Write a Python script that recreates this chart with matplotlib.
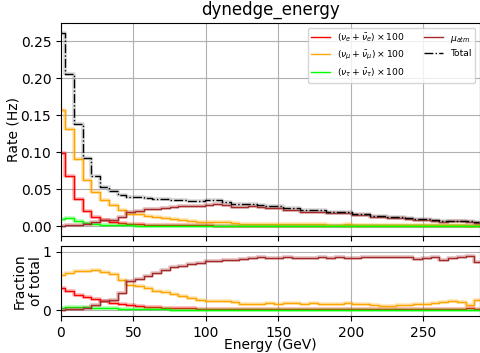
import matplotlib
matplotlib.use("Agg")
import matplotlib.pyplot as plt
import numpy as np

# bin centres (GeV)
energy = np.arange(0, 289, 6)

# total rate (Hz)
total = [0.262, 0.206, 0.138, 0.092, 0.068, 0.0535, 0.047, 0.042, 0.039, 0.039,
         0.038, 0.0365, 0.036, 0.0355, 0.035, 0.0345, 0.0345, 0.0347, 0.0347, 0.033,
         0.0305, 0.0302, 0.030, 0.028, 0.0271, 0.027, 0.0245, 0.0245, 0.0215, 0.0215,
         0.0215, 0.0192, 0.0192, 0.0192, 0.0161, 0.0161, 0.0135, 0.0135, 0.0117, 0.0117,
         0.0105, 0.0094, 0.0094, 0.0076, 0.0072, 0.007, 0.0068, 0.0065, 0.005]

# fraction of total
frac_nue = [0.38, 0.33, 0.265, 0.226, 0.181, 0.153, 0.124, 0.107, 0.079, 0.068,
            0.051, 0.045, 0.04, 0.035, 0.03, 0.028, 0.025, 0.022, 0.02, 0.02,
            0.018, 0.02, 0.02, 0.018, 0.02, 0.022, 0.02, 0.02, 0.022, 0.02,
            0.02, 0.022, 0.02, 0.02, 0.025, 0.02, 0.02, 0.018, 0.02, 0.02,
            0.02, 0.022, 0.02, 0.02, 0.022, 0.02, 0.02, 0.035, 0.025]
frac_numu = [0.6, 0.635, 0.66, 0.675, 0.678, 0.65, 0.61, 0.52, 0.42, 0.407,
             0.37, 0.33, 0.305, 0.27, 0.235, 0.2, 0.17, 0.16, 0.155, 0.15,
             0.13, 0.11, 0.097, 0.1, 0.12, 0.107, 0.115, 0.12, 0.107, 0.12,
             0.107, 0.107, 0.107, 0.12, 0.107, 0.1, 0.09, 0.075, 0.075, 0.08,
             0.085, 0.097, 0.097, 0.12, 0.13, 0.153, 0.13, 0.08, 0.18]
frac_nutau = [0.038, 0.05, 0.05, 0.045, 0.04, 0.035, 0.03, 0.025, 0.02, 0.015,
              0.012, 0.01, 0.01, 0.008, 0.008, 0.007, 0.006, 0.005, 0.005, 0.005,
              0.005, 0.005, 0.004, 0.005, 0.005, 0.004, 0.005, 0.005, 0.004, 0.005,
              0.005, 0.004, 0.005, 0.005, 0.004, 0.005, 0.005, 0.004, 0.005, 0.005,
              0.004, 0.005, 0.005, 0.004, 0.005, 0.005, 0.004, 0.005, 0.005]
frac_muon = [0.0, 0.01, 0.015, 0.03, 0.08, 0.15, 0.165, 0.29, 0.49, 0.53,
             0.59, 0.64, 0.69, 0.73, 0.757, 0.786, 0.805, 0.83, 0.842, 0.85,
             0.86, 0.875, 0.89, 0.9, 0.887, 0.89, 0.9, 0.89, 0.887, 0.895,
             0.9, 0.887, 0.9, 0.887, 0.887, 0.9, 0.9, 0.91, 0.91, 0.9,
             0.9, 0.88, 0.885, 0.9, 0.85, 0.885, 0.905, 0.92, 0.82]

labels = [r"$(\nu_e + \bar{\nu}_e) \times 100$",
          r"$(\nu_\mu + \bar{\nu}_\mu) \times 100$",
          r"$(\nu_\tau + \bar{\nu}_\tau) \times 100$",
          r"$\mu_{atm}$"]
colors = ["red", "orange", "lime", "brown"]
fracs = [frac_nue, frac_numu, frac_nutau, frac_muon]

total = np.array(total)

fig = plt.figure(figsize=(4.81, 3.53), dpi=100)
ax = fig.add_axes([0.1268, 0.3314, 0.8712, 0.6026])
axr = fig.add_axes([0.1268, 0.105, 0.8712, 0.199], sharex=ax)

# pale band under each step line
band = dict(where="mid", lw=2.6, alpha=0.3)

for frac, col, lab in zip(fracs, colors, labels):
    f = np.array(frac)
    rate = f * total
    ax.step(energy, rate, color=col, **band)
    ax.step(energy, rate, where="mid", color=col, lw=1.0, label=lab)
    axr.step(energy, f, color=col, **band)
    axr.step(energy, f, where="mid", color=col, lw=1.0)

ax.step(energy, total, color="gray", **band)
ax.step(energy, total, where="mid", color="black", lw=1.0, ls="-.", label="Total")

ax.set_xlim(0, 289)
ax.set_ylim(-0.0135, 0.2745)
ax.set_ylabel("Rate (Hz)")
ax.yaxis.set_label_coords(-0.097, 0.5)
ax.set_title("dynedge_energy")
ax.grid(True)
ax.tick_params(labelbottom=False)
ax.legend(ncol=2, fontsize=6.7, loc="upper right")

axr.set_ylim(-0.1, 1.1)
axr.set_yticks([0, 1])
axr.set_ylabel("Fraction\nof total")
axr.yaxis.set_label_coords(-0.043, 0.5)
axr.set_xlabel("Energy (GeV)", labelpad=-1)
axr.grid(True)

fig.savefig("out.png", dpi=100)
